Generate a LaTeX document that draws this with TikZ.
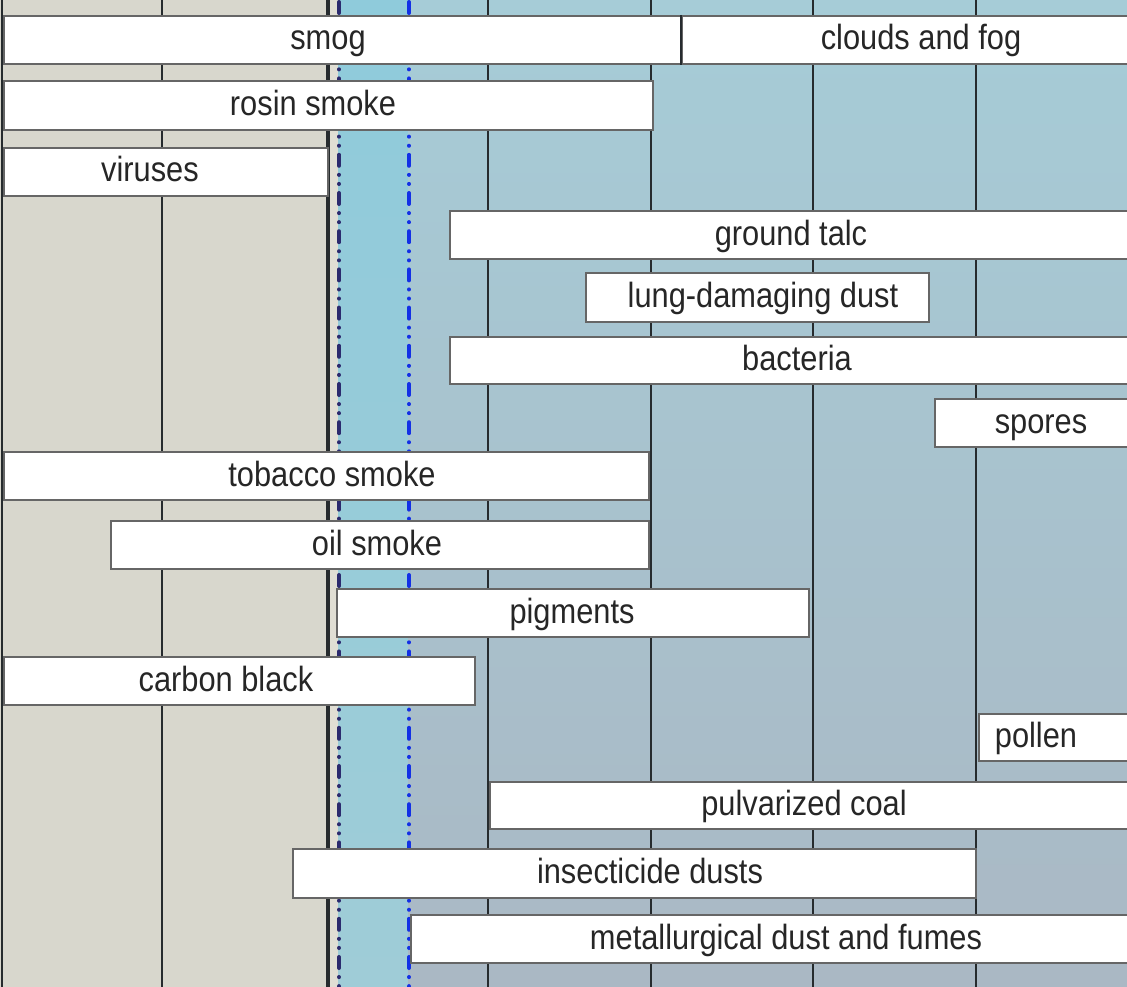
\documentclass[tikz,border=0pt]{standalone}
\usepackage{fontspec}
\setmainfont[FakeStretch=0.88]{Liberation Sans}
\definecolor{beige}{HTML}{D8D7CD}
\definecolor{beigelt}{HTML}{E0DED4}
\definecolor{skyA}{HTML}{8FCBDB}
\definecolor{skyB}{HTML}{9FCCD7}
\definecolor{blueA}{HTML}{A6CCD7}
\definecolor{blueB}{HTML}{AAB8C4}
\definecolor{gridline}{HTML}{262B2E}
\definecolor{barline}{HTML}{666666}
\definecolor{navy}{HTML}{2B2A6E}
\definecolor{brightblue}{HTML}{1230E6}
\tikzset{
  pbarbox/.style={draw=barline, line width=1.8pt, fill=white, inner sep=0pt, anchor=north west},
  plbl/.style={font=\fontsize{35}{40}\selectfont, text=black!85, inner sep=0pt, anchor=base},
  gline/.style={draw=gridline, line width=2.5pt},
  ddot/.style={line width=4pt, line cap=round, dash pattern={on 11pt off 9pt on 0.1pt off 9pt on 0.1pt off 9pt}}
}
\newcommand\pbar[7]{%
  \node[pbarbox, minimum width={#4-#2}, minimum height={#5-#3}] (#1) at (#2,#3) {};
  \node[plbl] (#1-t) at (#6,{(#3+#5)/2+11}) {#7};
}
\begin{document}
\begin{tikzpicture}[x=1pt,y=-1pt]
\useasboundingbox (0,0) rectangle (1127,987);
% backgrounds
\fill[beige] (0,0) rectangle (328,987);
\fill[beigelt] (328,0) rectangle (338,987);
\shade[top color=skyA, bottom color=skyB] (338,0) rectangle (408,987);
\shade[top color=blueA, bottom color=blueB] (408,0) rectangle (1127,987);
% vertical grid lines
\foreach \x in {2,162,488,651,813,976} \draw[gline] (\x,0) -- (\x,987);
\draw[gline, line width=3.2pt] (328,0) -- (328,987);
\draw[ddot, draw=navy] (339,2) -- (339,990);
\draw[ddot, draw=brightblue] (409,2) -- (409,990);
% bars
\pbar{smog}{3}{15}{681}{63}{328}{smog}
\pbar{clouds}{681}{15}{1130}{63}{921}{clouds and fog}
\draw[gridline, line width=2pt] (clouds.north west) -- (clouds.south west);
\pbar{rosin}{3}{80}{652}{129}{313}{rosin smoke}
\pbar{viruses}{3}{147}{327}{195}{150}{viruses}
\pbar{talc}{449}{210}{1130}{258}{791}{ground talc}
\pbar{lung}{585}{272}{928}{321}{763}{lung-damaging dust}
\pbar{bacteria}{449}{336}{1130}{383}{797}{bacteria}
\pbar{spores}{934}{398}{1130}{446}{1041}{spores}
\pbar{tobacco}{3}{451}{648}{499}{332}{tobacco smoke}
\pbar{oil}{110}{520}{648}{568}{377}{oil smoke}
\pbar{pigments}{336}{588}{808}{636}{572}{pigments}
\pbar{carbon}{3}{656}{474}{704}{226}{carbon black}
\pbar{pollen}{978}{713}{1130}{760}{1036}{pollen}
\pbar{coal}{489}{781}{1130}{828}{804}{pulvarized coal}
\pbar{insect}{292}{848}{975}{897}{650}{insecticide dusts}
\pbar{metal}{410}{914}{1130}{962}{786}{metallurgical dust and fumes}
\end{tikzpicture}
\end{document}
